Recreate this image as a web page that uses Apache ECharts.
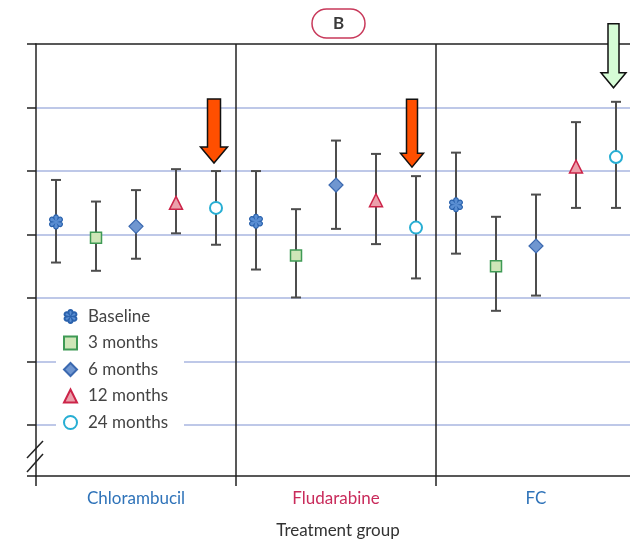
<!DOCTYPE html>
<html><head><meta charset="utf-8">
<script src="https://cdn.jsdelivr.net/npm/echarts@6/dist/echarts.min.js"></script>
<style>html,body{margin:0;padding:0;background:#fff}#c{width:630px;height:544px}</style>
</head><body><div id="c"></div>
<script>
// ---- data (arbitrary units; horizontal gridlines at 1..7) ----
const groups = ['Chlorambucil', 'Fludarabine', 'FC'];
const timepoints = ['Baseline', '3 months', '6 months', '12 months', '24 months'];

const baselineMean = [4.20, 4.21, 4.47];
const baselineHi   = [4.86, 5.00, 5.29];
const baselineLo   = [3.56, 3.45, 3.70];

const m3Mean = [3.95, 3.67, 3.50];
const m3Hi   = [4.52, 4.40, 4.28];
const m3Lo   = [3.43, 3.01, 2.80];

const m6Mean = [4.13, 4.78, 3.82];
const m6Hi   = [4.70, 5.48, 4.63];
const m6Lo   = [3.62, 4.09, 3.04];

const m12Mean = [4.50, 4.54, 5.07];
const m12Hi   = [5.03, 5.27, 5.77];
const m12Lo   = [4.02, 3.85, 4.42];

const m24Mean = [4.42, 4.11, 5.22];
const m24Hi   = [5.00, 4.92, 6.09];
const m24Lo   = [3.84, 3.31, 4.42];

const gridTicks = [1, 2, 3, 4, 5, 6, 7];

// ---- build ----
const means = [baselineMean, m3Mean, m6Mean, m12Mean, m24Mean];
const his = [baselineHi, m3Hi, m6Hi, m12Hi, m24Hi];
const los = [baselineLo, m3Lo, m6Lo, m12Lo, m24Lo];
const nT = timepoints.length;
const xOf = (g, t) => g * nT + t + 0.5;          // group g occupies [g*nT, (g+1)*nT)
const groupCenters = groups.map((g, i) => i * nT + nT / 2);
const groupBounds = groups.map((g, i) => i * nT);

function flowerPath() {
  const n = 6;
  let d = '';
  const P = (ang, r) => [Math.cos(ang * Math.PI / 180) * r, Math.sin(ang * Math.PI / 180) * r];
  const f = p => p[0].toFixed(3) + ' ' + p[1].toFixed(3);
  for (let i = 0; i < n; i++) {
    const a = i * 360 / n - 90;
    const p0 = P(a - 30, 0.55), c1 = P(a - 24, 1.2), c2 = P(a + 24, 1.2), p2 = P(a + 30, 0.55);
    if (i === 0) d += 'M' + f(p0);
    d += ' C' + f(c1) + ' ' + f(c2) + ' ' + f(p2);
  }
  return 'path://' + d + ' Z';
}

const styles = [
  { symbol: flowerPath(), size: 14, color: '#5b8fd3', border: '#2a62ad', bw: 1.2 },
  { symbol: 'rect', size: 11, color: '#cfe6b8', border: '#3f9a55', bw: 1.5 },
  { symbol: 'diamond', size: 14, color: '#6f96d0', border: '#3b69b0', bw: 1.2 },
  { symbol: 'triangle', size: 13, color: '#eba0ab', border: '#cc2449', bw: 1.5 },
  { symbol: 'circle', size: 12, color: '#ffffff', border: '#27aed3', bw: 2 }
];

const font = 'Lato, "Open Sans", sans-serif';

const scatterSeries = timepoints.map((name, t) => ({
  name,
  type: 'scatter',
  xAxisIndex: 0, yAxisIndex: 0,
  symbol: styles[t].symbol,
  symbolSize: styles[t].size,
  symbolKeepAspect: true,
  itemStyle: { color: styles[t].color, borderColor: styles[t].border, borderWidth: styles[t].bw, opacity: 1 },
  z: 5,
  silent: true,
  data: groups.map((g, gi) => [xOf(gi, t), means[t][gi]])
}));

const errData = [];
groups.forEach((g, gi) => {
  timepoints.forEach((tp, t) => {
    errData.push([xOf(gi, t), los[t][gi], his[t][gi]]);
  });
});

const errSeries = {
  type: 'custom',
  name: 'ci',
  xAxisIndex: 0, yAxisIndex: 0,
  z: 2,
  silent: true,
  encode: { x: 0, y: [1, 2] },
  renderItem(params, api) {
    const x = api.value(0), lo = api.value(1), hi = api.value(2);
    const a = api.coord([x, lo]), b = api.coord([x, hi]);
    const w = 5;
    const st = { stroke: '#4d4d4d', lineWidth: 2 };
    return {
      type: 'group',
      children: [
        { type: 'line', shape: { x1: a[0], y1: a[1], x2: b[0], y2: b[1] }, style: st },
        { type: 'line', shape: { x1: a[0] - w, y1: a[1], x2: a[0] + w, y2: a[1] }, style: st },
        { type: 'line', shape: { x1: b[0] - w, y1: b[1], x2: b[0] + w, y2: b[1] }, style: st }
      ]
    };
  },
  data: errData
};

const labelColors = ['#2f73b9', '#c92b5b', '#2f73b9'];
const yMin = 0.2, yMax = gridTicks[gridTicks.length - 1];
const xMax = 14.85; // the third panel is cut by the right edge

const chart = echarts.init(document.getElementById('c'), null, { renderer: 'canvas' });
chart.setOption({
  animation: false,
  backgroundColor: '#ffffff',
  textStyle: { fontFamily: font },
  title: {
    text: 'B',
    left: 312, top: 9,
    padding: [6, 21, 6, 21],
    borderColor: '#c8385a', borderWidth: 1.5, borderRadius: 15,
    textStyle: { fontFamily: font, fontSize: 17, fontWeight: 'bold', color: '#3a3a3a' }
  },
  legend: {
    orient: 'vertical',
    left: 56, top: 304,
    padding: [4, 16, 4, 7],
    itemGap: 9.5,
    itemWidth: 13, itemHeight: 13,
    backgroundColor: '#ffffff',
    data: timepoints,
    selectedMode: false,
    textStyle: { fontFamily: font, fontSize: 17, color: '#444444', lineHeight: 17, padding: [0, 0, 0, 6] }
  },
  grid: { left: 36, right: 0, top: 44, bottom: 65, containLabel: false },
  xAxis: [
    {
      type: 'value', min: 0, max: xMax, interval: nT, position: 'bottom',
      axisLine: { show: true, onZero: false, lineStyle: { color: '#222', width: 1.5 } },
      axisTick: { show: true, length: 10, interval: 0, customValues: groupBounds, lineStyle: { color: '#222', width: 1.5 } },
      splitLine: { show: true, interval: 0, showMinLine: false, lineStyle: { color: '#222', width: 1.5 } },
      axisLabel: {
        show: true, customValues: groupCenters, margin: 14, fontFamily: font, fontSize: 17,
        formatter: v => groups[Math.floor(v / nT)],
        color: v => labelColors[Math.floor(v / nT)]
      },
      name: 'Treatment group', nameLocation: 'middle', nameGap: 46,
      nameTextStyle: { fontFamily: font, fontSize: 17, color: '#333333', padding: [0, 0, 0, 10] }
    },
    {
      type: 'value', min: 0, max: xMax, position: 'top',
      axisLine: { show: true, onZero: false, lineStyle: { color: '#222', width: 1.5 } },
      axisTick: { show: false }, axisLabel: { show: false }, splitLine: { show: false }
    }
  ],
  yAxis: [
    { type: 'value', min: yMin, max: yMax, show: false },
    {
      type: 'value', inverse: true, min: 0, max: yMax - yMin, interval: 1, position: 'left',
      axisLine: { show: true, onZero: false, lineStyle: { color: '#222', width: 1.5 } },
      axisTick: { show: true, length: 9, inside: false, lineStyle: { color: '#222', width: 1.5 } },
      axisLabel: { show: false },
      splitLine: { show: true, showMinLine: false, showMaxLine: false, lineStyle: { color: '#a9b6e0', width: 1.5 } }
    }
  ],
  series: [errSeries].concat(scatterSeries)
});

// annotations: break marks and arrows
function arrowPts(tip, hw, sw, hh, len) {
  const [x, y] = tip;
  return [[x - sw, y - len], [x + sw, y - len], [x + sw, y - hh], [x + hw, y - hh], [x, y],
          [x - hw, y - hh], [x - sw, y - hh]];
}
const tipA = chart.convertToPixel({ xAxisIndex: 0, yAxisIndex: 0 }, [xOf(0, 4), m24Hi[0]]);
const tipB = chart.convertToPixel({ xAxisIndex: 0, yAxisIndex: 0 }, [xOf(1, 4), m24Hi[1]]);
const tipC = chart.convertToPixel({ xAxisIndex: 0, yAxisIndex: 0 }, [xOf(2, 4), m24Hi[2]]);
const graphics = [
  { type: 'line', shape: { x1: 27, y1: 458, x2: 43, y2: 441 }, style: { stroke: '#222', lineWidth: 1.5 }, z: 10 },
  { type: 'line', shape: { x1: 27, y1: 472, x2: 43, y2: 454 }, style: { stroke: '#222', lineWidth: 1.5 }, z: 10 },
  { type: 'polygon', shape: { points: arrowPts([tipA[0] - 2, tipA[1] - 8], 13.5, 6.5, 16, 64) },
    style: { fill: '#ff4f00', stroke: '#111', lineWidth: 1.5 }, z: 10 },
  { type: 'polygon', shape: { points: arrowPts([tipB[0] - 4, tipB[1] - 9], 11.5, 5.5, 14, 68) },
    style: { fill: '#ff4f00', stroke: '#111', lineWidth: 1.5 }, z: 10 },
  { type: 'polygon', shape: { points: arrowPts([tipC[0] - 2.5, tipC[1] - 14], 12.5, 5.5, 15, 64) },
    style: { fill: '#d6fcd6', stroke: '#111', lineWidth: 1.5 }, z: 10 }
];
chart.setOption({ graphic: graphics });
</script>
</body></html>
